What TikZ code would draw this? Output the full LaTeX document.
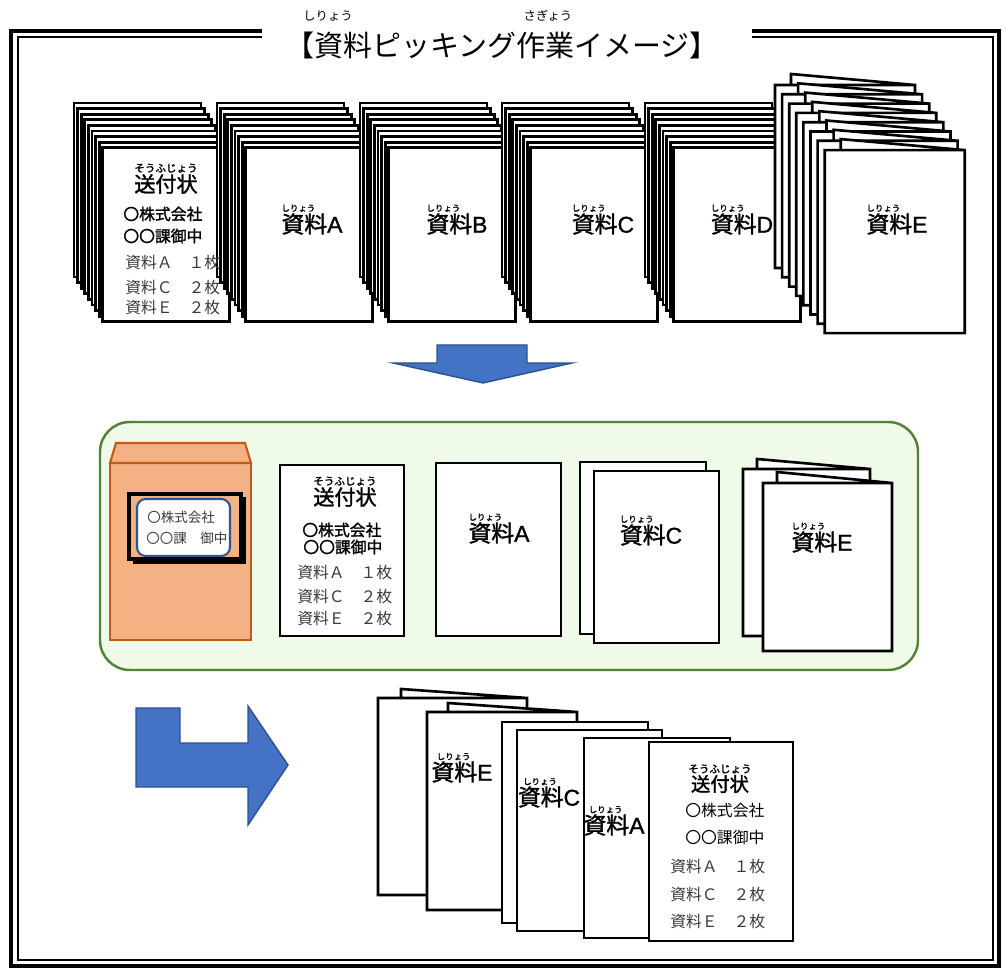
\documentclass[tikz,border=0pt]{standalone}
\usepackage{fontspec}
\setmainfont{Noto Sans CJK JP}[BoldFont=Noto Sans CJK JP,BoldFeatures={FakeBold=1.6}]
\newfontfamily\latinsans{Liberation Sans}[BoldFont=Liberation Sans,BoldFeatures={FakeBold=1.2}]
\usetikzlibrary{positioning}

\definecolor{arrowblue}{HTML}{4472C4}
\definecolor{arrowedge}{HTML}{2F528F}
\definecolor{kraft}{HTML}{F4B183}
\definecolor{kraftedge}{HTML}{C55A11}
\definecolor{trayfill}{HTML}{EFFAE9}
\definecolor{trayedge}{HTML}{548235}
\definecolor{tagedge}{HTML}{2F5597}
\definecolor{inkgray}{HTML}{3A3A3A}

\begin{document}
\begin{tikzpicture}
  [x=0.02cm,y=-0.02cm,
   sheet/.style={draw,fill=white,line width=1.5pt},
   lbl/.style={inner sep=0pt,font=\fontsize{13}{14}\selectfont\bfseries},
   ruby/.style={inner sep=0pt,font=\fontsize{4.8}{5}\selectfont\bfseries},
   slipruby/.style={inner sep=0pt,font=\fontsize{6}{6}\selectfont\bfseries},
   sliptitle/.style={inner sep=0pt,font=\fontsize{12}{13}\selectfont\bfseries},
   sliphead/.style={inner sep=0pt,anchor=west,font=\fontsize{9}{10}\selectfont\bfseries},
   slipline/.style={inner sep=0pt,anchor=west,text=inkgray,font=\fontsize{9}{10}\selectfont},
   blockarrow/.style={fill=arrowblue,draw=arrowedge,line width=0.8pt}]
  \useasboundingbox (0,0) rectangle (1005,969);

  % double frame, open at the top for the title
  \draw[line width=2.6pt] (262,31) -- (11,31) -- (11,966) -- (999,966) -- (999,31) -- (752,31);
  \draw[line width=1pt] (262,37) -- (18,37) -- (18,960) -- (993,960) -- (993,37) -- (752,37);
  \node[inner sep=0pt,font=\fontsize{16.5}{18}\selectfont] (title) at (502,45) {【資料ピッキング作業イメージ】};
  \node[inner sep=0pt,font=\fontsize{7}{7}\selectfont] (titlerb1) at (328,16) {しりょう};
  \node[inner sep=0pt,font=\fontsize{7}{7}\selectfont] (titlerb2) at (548,16) {さぎょう};

  % piles on the shelf
  \foreach \x in {74,217,360,502,645}
    \foreach \i in {0,...,8}
      \draw[sheet] ({\x+3.6*\i},{103+5.6*\i}) rectangle +(127,174);
  \foreach \i in {0,...,7}
    \draw[sheet,shift={({7.1*\i},{9.3*\i})}] (791,85) -- (791,74) -- (915,85) -- cycle
      (775,85) rectangle (915,268);

  \node[sliptitle] (topslip) at (166,184) {送付状};
  \node[slipruby,above=0.5pt of topslip] (topsliprb) {そうふじょう};
  \node[sliphead] (topco) at (123,214) {〇株式会社};
  \node[sliphead] (topdept) at (123,236) {〇〇課御中};
  \node[slipline] (topa) at (125,263) {資料Ａ　１枚};
  \node[slipline] (topc) at (125,288) {資料Ｃ　２枚};
  \node[slipline] (tope) at (125,308) {資料Ｅ　２枚};

  \foreach \nm/\x in {A/312,B/457,C/603,D/742,E/897} {
    \node[lbl] (top\nm) at (\x,224) {資料{\latinsans\nm}};
    \node[ruby,above right=0.5pt and 0pt of top\nm.north west] (toprb\nm) {しりょう};
  }

  % arrow down to the picked set
  \draw[blockarrow] (437,345) -- (527,345) -- (527,363) -- (572,363) -- (483,383)
    -- (393,363) -- (437,363) -- cycle;

  % picked set
  \draw[fill=trayfill,draw=trayedge,line width=1.4pt,rounded corners=17pt] (100,422) rectangle (918,670);

  \draw[fill=kraft,draw=kraftedge,line width=1.2pt] (110,463) rectangle (251,640);
  \draw[fill=kraft,draw=kraftedge,line width=1.2pt] (110,463) -- (116,443) -- (245,443) -- (251,463) -- cycle;
  \draw[line width=2.2pt] (129,494) rectangle (241,559);
  \draw[line width=2.2pt] (133,562) -- (244,562) -- (244,497);
  \draw[fill=white,draw=tagedge,line width=1.2pt,rounded corners=5pt] (137,499) rectangle (230,556);
  \node[slipline,font=\fontsize{7.7}{8}\selectfont] (envco) at (147,517) {〇株式会社};
  \node[slipline,font=\fontsize{7.7}{8}\selectfont] (envdept) at (146,538) {〇〇課　御中};

  \draw[sheet] (280,465) rectangle (404,636);
  \node[sliptitle] (midslip) at (345,497) {送付状};
  \node[slipruby,above=0.5pt of midslip] (midsliprb) {そうふじょう};
  \node[sliphead] (midco) at (302,530) {〇株式会社};
  \node[sliphead] (middept) at (303,547) {〇〇課御中};
  \node[slipline] (mida) at (297,573) {資料Ａ　１枚};
  \node[slipline] (midc) at (297,597) {資料Ｃ　２枚};
  \node[slipline] (mide) at (297,619) {資料Ｅ　２枚};

  \draw[sheet] (436,463) rectangle (561,636);
  \draw[sheet] (580,462) rectangle (706,634);
  \draw[sheet] (594,471) rectangle (719,643);
  \draw[sheet] (757,469) -- (757,459) -- (870,469) -- cycle (743,469) rectangle (870,636);
  \draw[sheet] (777,483) -- (777,472) -- (892,483) -- cycle (763,483) rectangle (892,651);

  \foreach \nm/\x/\y in {A/499/533,C/651/535,E/822/542} {
    \node[lbl] (mid\nm) at (\x,\y) {資料{\latinsans\nm}};
    \node[ruby,above right=0.5pt and 0pt of mid\nm.north west] (midrb\nm) {しりょう};
  }

  % bent arrow into the envelope
  \draw[blockarrow] (136,708) -- (180,708) -- (180,743) -- (248,743) -- (248,706) -- (288,765)
    -- (248,825) -- (248,787) -- (136,787) -- cycle;

  % set in envelope order
  \draw[sheet] (401,698) -- (401,689) -- (527,698) -- cycle (378,698) rectangle (527,895);
  \draw[sheet] (448,712) -- (448,703) -- (577,712) -- cycle (427,712) rectangle (577,910);
  \draw[sheet] (502,722) rectangle (648,923);
  \draw[sheet] (517,730) rectangle (662,931);
  \draw[sheet] (584,738) rectangle (730,938);
  \draw[sheet] (649,742) rectangle (793,941);

  \foreach \nm/\x/\y in {E/462/772,C/549/797,A/614/825} {
    \node[lbl] (low\nm) at (\x,\y) {資料{\latinsans\nm}};
    \node[ruby,above right=0.3pt and 3pt of low\nm.north west] (lowrb\nm) {しりょう};
  }

  \node[sliptitle,font=\fontsize{11}{12}\selectfont\bfseries] (lowslip) at (720,784) {送付状};
  \node[slipruby,above=0.5pt of lowslip] (lowsliprb) {そうふじょう};
  \node[slipline,text=black] (lowco) at (685,811) {〇株式会社};
  \node[slipline,text=black] (lowdept) at (685,837) {〇〇課御中};
  \node[slipline] (lowa) at (670,867) {資料Ａ　１枚};
  \node[slipline] (lowc) at (670,895) {資料Ｃ　２枚};
  \node[slipline] (lowe) at (670,922) {資料Ｅ　２枚};
\end{tikzpicture}
\end{document}
